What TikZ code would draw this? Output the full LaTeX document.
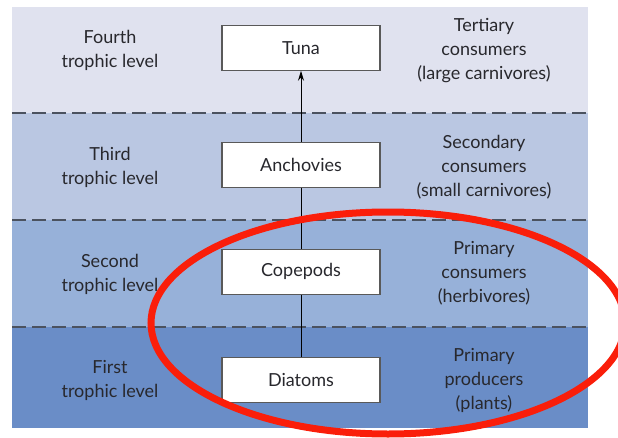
\documentclass[tikz,border=0pt]{standalone}
\usepackage{fontspec}
\setmainfont{Lato}
\usepackage{xcolor}
\usepackage{tikz}
\usetikzlibrary{positioning,arrows.meta}

\definecolor{bandfour}{RGB}{224,226,239}
\definecolor{bandthree}{RGB}{186,199,226}
\definecolor{bandtwo}{RGB}{151,177,217}
\definecolor{bandone}{RGB}{106,141,199}
\definecolor{textgrey}{RGB}{40,40,45}
\definecolor{dashgrey}{RGB}{75,82,95}
\definecolor{markred}{RGB}{250,30,10}

\begin{document}
\begin{tikzpicture}[
  x=1pt, y=1pt,
  txt/.style={font=\fontsize{18}{24}\selectfont, text=textgrey, align=center},
  organism/.style={txt, draw=black!65, line width=1.1pt, fill=white, minimum width=158pt, minimum height=45pt},
  levelline/.style={draw=dashgrey, line width=1.6pt, dash pattern=on 14pt off 6pt},
  ->, >={Stealth[length=10pt,width=6pt]}
]
  \useasboundingbox (0,0) rectangle (618,437);
  \clip (0,0) rectangle (618,437);

  % coloured bands, one per level
  \fill[bandfour] (12,324) rectangle (588,430);
  \fill[bandthree] (12,217) rectangle (588,324);
  \fill[bandtwo] (12,110) rectangle (588,217);
  \fill[bandone] (12,9) rectangle (588,110);
  \draw[levelline, -] (12,324) -- (588,324);
  \draw[levelline, -] (12,217) -- (588,217);
  \draw[levelline, -] (12,110) -- (588,110);

  % food chain (middle column)
  \node[organism] (diatoms) at (301,57) {Diatoms};
  \node[organism, above=62pt of diatoms] (copepods) {Copepods};
  \node[organism, above=61pt of copepods] (anchovies) {Anchovies};
  \node[organism, above=71pt of anchovies] (tuna) {Tuna};
  \draw[-, line width=1pt] (diatoms) -- (copepods);
  \draw[-, line width=1pt] (copepods) -- (anchovies);
  \draw[->, line width=1pt] (anchovies) -- (tuna);

  % trophic levels (left column)
  \node[txt] (lev4) at (110,387) {Fourth\\trophic level};
  \node[txt] (lev3) at (110,270) {Third\\trophic level};
  \node[txt] (lev2) at (110,163) {Second\\trophic level};
  \node[txt] (lev1) at (110,57) {First\\trophic level};

  % roles (right column)
  \node[txt] (role4) at (484,386) {Tertiary\\consumers\\(large carnivores)};
  \node[txt] (role3) at (484,270) {Secondary\\consumers\\(small carnivores)};
  \node[txt] (role2) at (484,164) {Primary\\consumers\\(herbivores)};
  \node[txt] (role1) at (484,57) {Primary\\producers\\(plants)};

  % hand-drawn highlight
  \draw[markred, line width=7pt, -] (388,114) ellipse [x radius=237, y radius=111];
\end{tikzpicture}
\end{document}
